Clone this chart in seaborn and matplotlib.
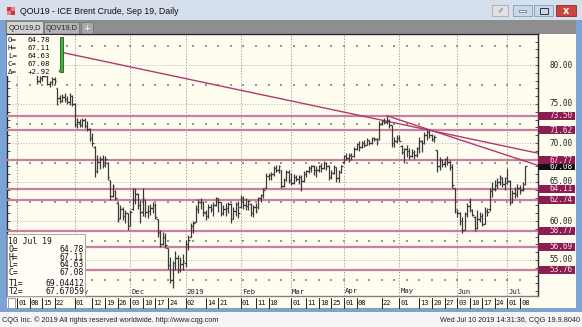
import numpy as np
import pandas as pd
import matplotlib
matplotlib.use("Agg")
import matplotlib.pyplot as plt
import seaborn as sns
from matplotlib.patches import Rectangle
from matplotlib.transforms import blended_transform_factory as btf

sns.set_style("white")
plt.rcParams['font.family'] = ['DejaVu Sans']

# ---------------- data ----------------
start_date, end_date = "2018-10-01", "2019-07-10"
opens = [80.6,81.3,81.9,82.3,81.2,81.1,80.7,81.3,79.9,78.0,
 78.3,78.6,78.6,77.6,77.8,78.2,77.0,75.8,75.4,75.9,
 75.6,75.3,76.0,75.0,72.5,72.7,72.3,72.9,72.2,71.8,
 70.6,69.5,66.4,67.6,68.0,67.2,67.5,65.3,63.2,63.8,
 62.3,60.4,61.5,60.6,61.0,59.4,61.6,62.7,63.4,62.0,
 61.2,62.7,61.2,61.3,61.7,62.1,60.2,58.5,57.0,58.0,
 56.5,54.3,52.4,54.6,55.2,53.9,54.5,54.6,57.0,58.0,
 59.4,59.9,61.6,62.5,62.5,61.0,60.6,61.8,61.6,62.1,
 62.9,62.4,61.0,61.6,61.7,62.2,60.3,61.3,62.2,61.8,
 63.0,62.0,61.9,62.2,61.0,61.8,61.8,62.9,63.3,64.2,
 65.8,65.9,66.0,66.8,66.6,66.5,64.5,65.2,66.3,65.2,
 64.9,65.7,65.4,65.6,65.1,66.0,66.4,66.8,67.0,66.6,
 66.5,67.0,66.8,67.4,67.1,65.7,66.2,66.9,65.5,66.3,
 67.6,68.3,68.1,68.5,68.3,69.2,69.9,69.5,70.0,69.8,
 70.4,70.0,70.6,70.5,70.6,72.5,72.8,72.7,73.0,72.3,
 70.0,70.2,70.6,69.6,68.9,69.2,69.0,68.3,68.9,68.4,
 69.3,70.2,70.0,71.0,71.4,71.0,70.5,69.1,67.0,67.8,
 67.3,67.9,67.6,66.9,64.2,61.2,61.0,60.0,58.9,60.9,
 61.9,61.4,60.5,59.1,60.3,60.7,59.6,61.3,61.5,63.9,
 64.1,64.6,65.0,65.5,64.8,65.5,65.1,62.4,63.6,63.4,
 64.2,64.0,64.78]
highs = [81.6,82.2,82.7,82.4,81.6,81.4,81.6,81.5,80.0,78.6,
 78.9,79.2,78.7,78.0,78.4,78.5,77.1,76.2,76.3,76.4,
 76.0,76.4,76.2,75.1,73.2,73.1,73.2,73.2,72.8,71.9,
 71.3,69.6,68.5,68.3,68.5,68.3,67.6,65.3,64.8,64.0,
 62.3,62.0,61.8,61.4,61.0,61.4,64.2,64.2,63.6,62.7,
 64.2,62.7,62.0,62.2,62.5,62.3,60.3,58.8,58.6,58.4,
 56.6,55.4,54.9,56.1,55.6,55.4,55.8,57.6,58.2,59.7,
 60.0,62.0,62.8,63.0,62.6,61.4,62.2,62.2,62.4,63.1,
 63.0,62.5,62.0,62.3,62.5,62.3,61.8,62.5,62.6,63.3,
 63.2,63.0,62.7,62.3,62.0,62.3,63.1,63.5,64.2,66.1,
 66.1,66.3,67.0,67.2,67.2,66.5,65.5,66.6,66.6,66.1,
 66.0,65.9,65.9,65.9,66.4,66.6,67.0,67.2,67.2,67.0,
 67.2,67.4,67.7,67.6,67.2,66.6,67.2,66.9,66.5,67.2,
 68.5,68.7,68.7,68.7,69.5,70.0,70.2,70.2,70.4,70.6,
 70.4,70.8,70.8,70.6,72.8,73.0,73.2,73.5,73.1,72.3,
 70.8,71.0,71.0,69.8,69.4,69.7,69.4,69.2,69.1,69.5,
 70.8,70.4,71.4,71.7,71.7,71.2,71.0,69.1,68.2,68.0,
 68.1,68.3,67.8,67.3,64.2,61.5,61.1,60.5,61.2,62.3,
 63.0,61.6,60.6,61.4,61.2,61.0,61.8,61.7,64.2,65.0,
 65.2,65.5,65.9,65.6,65.7,66.8,65.3,64.0,64.4,64.8,
 64.6,65.0,67.11]
lows = [80.3,81.0,81.5,80.9,80.6,80.1,80.5,79.6,77.6,77.7,
 77.9,78.4,77.4,77.2,77.5,77.6,74.9,75.1,75.2,75.3,
 75.0,74.9,74.8,72.1,71.9,72.0,72.1,71.9,71.5,70.3,
 69.6,65.7,66.2,66.7,66.8,66.9,65.3,62.7,63.1,62.7,
 59.9,60.3,60.1,59.7,58.9,59.3,61.4,62.2,61.6,59.8,
 60.6,60.5,60.4,60.8,61.0,60.2,58.0,56.7,56.9,56.5,
 53.8,52.0,51.4,53.7,53.3,53.5,53.7,54.1,56.3,58.0,
 58.5,59.9,61.0,61.6,60.6,60.1,60.4,61.1,60.6,61.9,
 61.2,60.6,60.8,60.6,61.0,59.7,60.3,60.6,60.4,61.7,
 61.6,61.4,61.4,60.6,60.5,61.0,61.6,62.5,62.9,64.2,
 65.3,65.3,65.8,66.3,66.1,64.2,64.4,65.1,64.9,64.6,
 64.8,65.1,64.8,63.8,65.0,65.6,66.2,66.3,65.9,65.7,
 66.3,66.3,66.7,66.6,65.3,65.4,66.0,65.0,65.0,66.1,
 67.4,67.8,67.6,67.8,68.2,69.1,69.0,69.3,69.5,69.7,
 69.7,69.9,70.2,69.7,70.4,72.3,72.5,72.4,71.9,69.5,
 69.5,70.0,70.2,68.6,67.4,68.2,68.0,68.2,68.0,68.2,
 68.7,68.9,69.9,70.4,70.7,70.2,70.1,66.3,66.5,66.9,
 66.9,67.2,66.5,64.2,61.0,60.5,59.5,58.4,58.8,60.5,
 61.1,60.6,58.7,59.0,59.9,59.3,59.6,60.6,61.3,63.1,
 63.8,64.2,64.6,64.4,64.0,64.8,62.0,62.3,63.0,63.1,
 63.4,63.9,64.63]
closes = [81.3,81.9,82.3,81.2,81.1,80.7,81.3,79.9,78.0,78.3,
 78.6,79.0,77.6,77.8,78.2,77.9,75.8,75.4,75.9,75.6,
 75.3,76.0,75.0,72.5,72.7,72.3,72.9,72.2,71.8,70.6,
 70.0,66.4,67.6,68.0,67.2,68.0,65.6,63.2,64.5,62.9,
 60.2,61.5,60.6,61.0,59.4,61.1,62.7,63.4,62.0,61.2,
 62.9,61.2,61.3,61.7,62.1,60.5,58.6,57.0,58.0,56.9,
 54.3,52.4,54.6,55.2,53.9,54.5,54.9,57.0,57.6,59.4,
 59.7,61.6,62.5,62.5,61.2,60.6,61.8,61.6,62.1,62.9,
 62.4,61.0,61.6,61.7,62.2,60.3,61.3,62.2,61.0,63.0,
 62.0,61.9,62.6,61.0,61.8,61.3,62.9,63.3,64.0,65.8,
 65.9,66.0,66.8,66.6,67.0,64.5,65.2,66.3,65.2,64.9,
 65.7,65.4,65.6,65.1,66.0,66.4,66.8,67.0,66.6,66.5,
 67.0,66.8,67.4,67.1,65.7,66.2,66.9,65.5,66.3,67.0,
 68.3,68.1,68.5,68.3,69.2,69.9,69.5,70.0,69.8,70.4,
 70.0,70.6,70.5,70.4,72.5,72.8,72.7,73.0,72.3,70.0,
 70.2,70.6,70.3,68.9,69.2,69.0,68.3,68.9,68.4,69.3,
 70.2,70.0,71.0,71.4,71.0,70.5,70.8,67.0,67.8,67.3,
 67.9,67.6,66.9,64.6,61.5,61.0,60.0,58.9,60.9,61.9,
 61.4,60.8,59.1,60.3,60.7,59.6,61.3,61.2,63.9,64.1,
 64.6,65.0,65.7,64.8,64.9,65.1,62.4,63.6,63.4,64.2,
 64.0,64.16,67.08]

levels = [73.50, 71.62, 67.77, 64.11, 62.74, 58.77, 56.69, 53.76]
price_ticks = [80, 75, 70, 65, 60, 55]
t1_dates, t1_prices = ["2018-10-03", "2019-07-10"], [82.70, 69.04412]
t2_dates, t2_prices = ["2019-04-24", "2019-07-10"], [73.50, 67.67059]

tick_dates = ["2018-10-01","2018-10-08","2018-10-15","2018-10-22","2018-11-01",
              "2018-11-12","2018-11-19","2018-11-26","2018-12-03","2018-12-10",
              "2018-12-17","2018-12-24","2019-01-02","2019-01-14","2019-01-21",
              "2019-02-01","2019-02-11","2019-02-18","2019-03-01","2019-03-11",
              "2019-03-18","2019-03-25","2019-04-01","2019-04-08","2019-04-22",
              "2019-05-01","2019-05-13","2019-05-20","2019-05-27","2019-06-03",
              "2019-06-10","2019-06-17","2019-06-24","2019-07-01","2019-07-08"]
grid_month_dates = ["2018-10-01","2018-11-01","2018-12-03","2019-01-02","2019-02-01",
                    "2019-03-01","2019-04-01","2019-05-01","2019-06-03","2019-07-01"]
month_dates = ["2018-11-01","2018-12-03","2019-01-02","2019-02-01",
               "2019-03-01","2019-04-01","2019-05-01","2019-06-03","2019-07-01"]
month_names = ["Nov","Dec","2019","Feb","Mar","Apr","May","Jun","Jul"]

# ---------------- layout ----------------
W, H = 582, 327
L, T, R, B = 7, 34, 538, 296
CREAM = "#FFFCF0"
MONO = "DejaVu Sans Mono"
SANS = "Liberation Sans"

dates = pd.bdate_range(start_date, end_date)
xs = np.arange(len(dates))
pos = {d: i for i, d in enumerate(dates)}
def ix(d):
    return pos[pd.Timestamp(d)]

fig = plt.figure(figsize=(W/100, H/100), dpi=100)
fig.patch.set_facecolor("#7BA3D6")

bg = fig.add_axes([0, 0, 1, 1], zorder=0)
bg.set_xlim(0, W); bg.set_ylim(H, 0); bg.axis("off")
ax = fig.add_axes([L/W, 1-B/H, (R-L)/W, (B-T)/H], zorder=1)
fg = fig.add_axes([0, 0, 1, 1], zorder=2)
fg.set_xlim(0, W); fg.set_ylim(H, 0); fg.axis("off")

def rect(a, x, y, w, h, fc, ec="none", lw=0.0, z=1, **kw):
    a.add_patch(Rectangle((x, y), w, h, facecolor=fc, edgecolor=ec, lw=lw, zorder=z, **kw))

# window chrome
rect(bg, 0, 0, W, 20, "#D5E0EC")
rect(bg, 5, 20, 571, 14, "#8E8E8E")
rect(bg, R, T, 576-R, 308-T, CREAM)
rect(bg, L, B, R-L, 308-B, CREAM)
rect(bg, 0, 312, W, 15, "#F5F5F5")
for (a, b2, c) in [(7, 7, "#D0334A"), (11, 7, "#E8808F"), (7, 11, "#E8808F"), (11, 11, "#D0334A")]:
    rect(bg, a, b2, 3.5, 3.5, c, z=2)
bg.text(20, 11, "QOU19 - ICE Brent Crude, Sep 19, Daily", fontsize=6.3, va="center",
        family=SANS, color="#111111")
rect(bg, 492, 5, 16, 11, "#E2E2E2", ec="#A8A8A8", lw=0.6, z=2)
bg.text(500, 10.5, "\u2710", fontsize=5, ha="center", va="center", color="#777777", zorder=3)
rect(bg, 513, 5, 19, 11, "#C8D7EA", ec="#7F9DB9", lw=0.6, z=2)
rect(bg, 519, 10, 7, 2, "#FFFFFF", ec="#444444", lw=0.4, z=3)
rect(bg, 534, 5, 19, 11, "#C8D7EA", ec="#7F9DB9", lw=0.6, z=2)
rect(bg, 539.5, 7.5, 8, 6, "none", ec="#333333", lw=0.7, z=3)
rect(bg, 556, 5, 20, 11, "#C9463D", ec="#8E2A22", lw=0.6, z=2)
bg.text(566, 10.7, "x", fontsize=7, ha="center", va="center", color="white", weight="bold", zorder=3)
rect(bg, 6, 21, 37, 13, "#D3D3D3", ec="#707070", lw=0.5, z=2)
bg.text(24.5, 28, "QOU19,D", fontsize=5.3, ha="center", va="center", family=SANS, zorder=3)
rect(bg, 44, 22, 35, 12, "#B3B3B3", ec="#707070", lw=0.5, z=2)
bg.text(61.5, 28.5, "QOV19,D", fontsize=5.3, ha="center", va="center", family=SANS, zorder=3)
rect(bg, 81, 22, 12, 12, "#A8A8A8", ec="#707070", lw=0.5, z=2)
bg.text(87, 28.5, "+", fontsize=6, ha="center", va="center", color="white", zorder=3)
rect(bg, L+0.5, B+1.5, 7, 10, "#FFFFFF", ec="#909090", lw=0.6, z=2)
bg.plot([L, R], [308, 308], color="#9A9A9A", lw=0.8, zorder=2)
bg.text(2, 320, "CQG Inc. \u00a9 2019 All rights reserved worldwide. http://www.cqg.com",
        fontsize=5.2, va="center", family=SANS, color="#222222")
bg.text(580, 320, "Wed Jul 10 2019 14:31:36, CQG 19.9.8040",
        fontsize=5.2, va="center", ha="right", family=SANS, color="#222222")

# ---------------- chart ----------------
x_left = (L - 17) / 2.515
x_right = (R - 17) / 2.515
y_bot = 80 - (B - 65) / 7.8
y_top = 80 + (65 - T) / 7.8

ax.set_facecolor(CREAM)
grid_c = "#969696"
for p in price_ticks:
    ax.axhline(p, color=grid_c, lw=0.6, ls=(0, (1, 2.2)), zorder=1)
for d in grid_month_dates:
    ax.axvline(ix(d), color=grid_c, lw=0.7, ls=(0, (1.2, 1.8)), zorder=1)
mondays = [i for i, d in enumerate(dates) if d.weekday() == 0]
minor_levels = [52.5, 57.5, 62.5, 67.5, 72.5, 77.5, 82.5]
mx, my = np.meshgrid(mondays, minor_levels)
ax.scatter(mx.ravel(), my.ravel(), s=0.7, marker="s", color=grid_c, linewidths=0, zorder=1)

for p in levels:
    ax.axhline(p, color="#C97FA0", lw=1.6, zorder=3)

for dts, prs in [(t1_dates, t1_prices), (t2_dates, t2_prices)]:
    i1, i2 = ix(dts[0]), ix(dts[1])
    slope = (prs[1] - prs[0]) / (i2 - i1)
    tl = pd.DataFrame({"x": [i1, x_right], "y": [prs[0], prs[0] + slope * (x_right - i1)]})
    sns.lineplot(data=tl, x="x", y="y", ax=ax, color="#B2396F", linewidth=1.0,
                 legend=False, zorder=4)

bar_c = "#3A3A3A"
ax.vlines(xs, lows, highs, colors=bar_c, lw=0.9, zorder=5)
ax.hlines(opens, xs - 0.6, xs, colors=bar_c, lw=0.9, zorder=5)
ax.hlines(closes, xs, xs + 0.6, colors=bar_c, lw=0.9, zorder=5)

ax.set_xlim(x_left, x_right)
ax.set_ylim(y_bot, y_top)
ax.set_xlabel(""); ax.set_ylabel("")
ax.set_xticks([])
ax.set_yticks(np.arange(51, 84, 1))
ax.tick_params(axis="y", which="both", direction="in", length=2, width=0.6,
               left=True, right=True, labelleft=False, labelright=False, color="#333333")
for s in ax.spines.values():
    s.set_color("#2A2A2A"); s.set_linewidth(1.0)
ax.spines["bottom"].set_color("#808080")

# right price scale
tr_r = btf(ax.transAxes, ax.transData)
xr_txt = (573 - L) / (R - L)
box_w = (575 - R) / (R - L)
for p in price_ticks:
    ax.text(xr_txt, p, f"{p:.2f}", transform=tr_r, ha="right", va="center",
            fontsize=5.6, family=MONO, color="#222222", clip_on=False, zorder=7)
last_close = closes[-1]
ax.add_patch(Rectangle((1.0, last_close - 0.52), box_w, 1.04, transform=tr_r,
                       facecolor="#111111", edgecolor="none", clip_on=False, zorder=8))
ax.text(xr_txt, last_close - 0.15, f"{last_close:.2f}", transform=tr_r, ha="right", va="center",
        fontsize=5.6, family=MONO, color="white", clip_on=False, zorder=8)
for p in levels:
    ax.add_patch(Rectangle((1.0, p - 0.52), box_w, 1.04, transform=tr_r,
                           facecolor="#8C1D50", edgecolor="none", clip_on=False, zorder=9))
    ax.text(xr_txt, p, f"{p:.2f}", transform=tr_r, ha="right", va="center",
            fontsize=5.6, family=MONO, color="#F6DCE8", clip_on=False, zorder=9)

# date row
tr_d = btf(ax.transData, ax.transAxes)
def fy(ypx):
    return (B - ypx) / (B - T)
for d in tick_dates:
    i = ix(d)
    ax.plot([i, i], [fy(297.5), fy(307.5)], transform=tr_d, color="#222222", lw=0.7,
            clip_on=False, zorder=7)
    ax.text(i + 0.45, fy(302.8), pd.Timestamp(d).strftime("%d"), transform=tr_d,
            ha="left", va="center", fontsize=5.0, family=MONO, color="#111111",
            clip_on=False, zorder=7)
for d, nm in zip(month_dates, month_names):
    ax.text(ix(d) + 0.4, fy(291.5), nm, transform=tr_d, ha="left", va="center",
            fontsize=5.2, family=MONO, color="#222222", clip_on=False, zorder=6)

# info boxes
rect(fg, L, T + 0.8, 56, 41, CREAM, z=10)
dlt = closes[-1] - closes[-2]
top_rows = [("O=", f"{opens[-1]:.2f}"), ("H=", f"{highs[-1]:.2f}"), ("L=", f"{lows[-1]:.2f}"),
            ("C=", f"{closes[-1]:.2f}"), ("\u0394=", f"{dlt:+.2f}")]
for k, (lab, val) in enumerate(top_rows):
    yy = 39.5 + k * 8.2
    fg.text(8, yy, lab, fontsize=5.4, family=MONO, va="center", color="#111111", zorder=11)
    fg.text(50, yy, val, fontsize=5.4, family=MONO, va="center", ha="right", color="#111111", zorder=11)
rect(fg, 59.5, 37, 3, 35, "#26C626", ec="#2A2A2A", lw=0.5, z=11)
rect(fg, 58.8, 69.5, 2.2, 2.2, "#C8B400", ec="#2A2A2A", lw=0.3, z=12)

rect(fg, L, 234, 78, B - 234, "#FFFDF6", ec="#9A9A9A", lw=0.6, z=10)
low_rows = [("", dates[-1].strftime("%d %b %y")), ("O=", f"{opens[-1]:.2f}"),
            ("H=", f"{highs[-1]:.2f}"), ("L=", f"{lows[-1]:.2f}"), ("C=", f"{closes[-1]:.2f}"),
            ("T1=", f"{t1_prices[1]:.5f}"), ("T2=", f"{t2_prices[1]:.5f}")]
ys_low = [242, 249.5, 257, 264.5, 272.5, 283, 291]
for (lab, val), yy in zip(low_rows, ys_low):
    if lab == "":
        fg.text(8.5, yy, val, fontsize=5.8, family=MONO, va="center", color="#111111", zorder=11)
    else:
        fg.text(8.5, yy, lab, fontsize=5.8, family=MONO, va="center", color="#111111", zorder=11)
        fg.text(84, yy, val, fontsize=5.8, family=MONO, va="center", ha="right",
                color="#111111", zorder=11)

fig.savefig("out.png", dpi=100, facecolor=fig.get_facecolor())
